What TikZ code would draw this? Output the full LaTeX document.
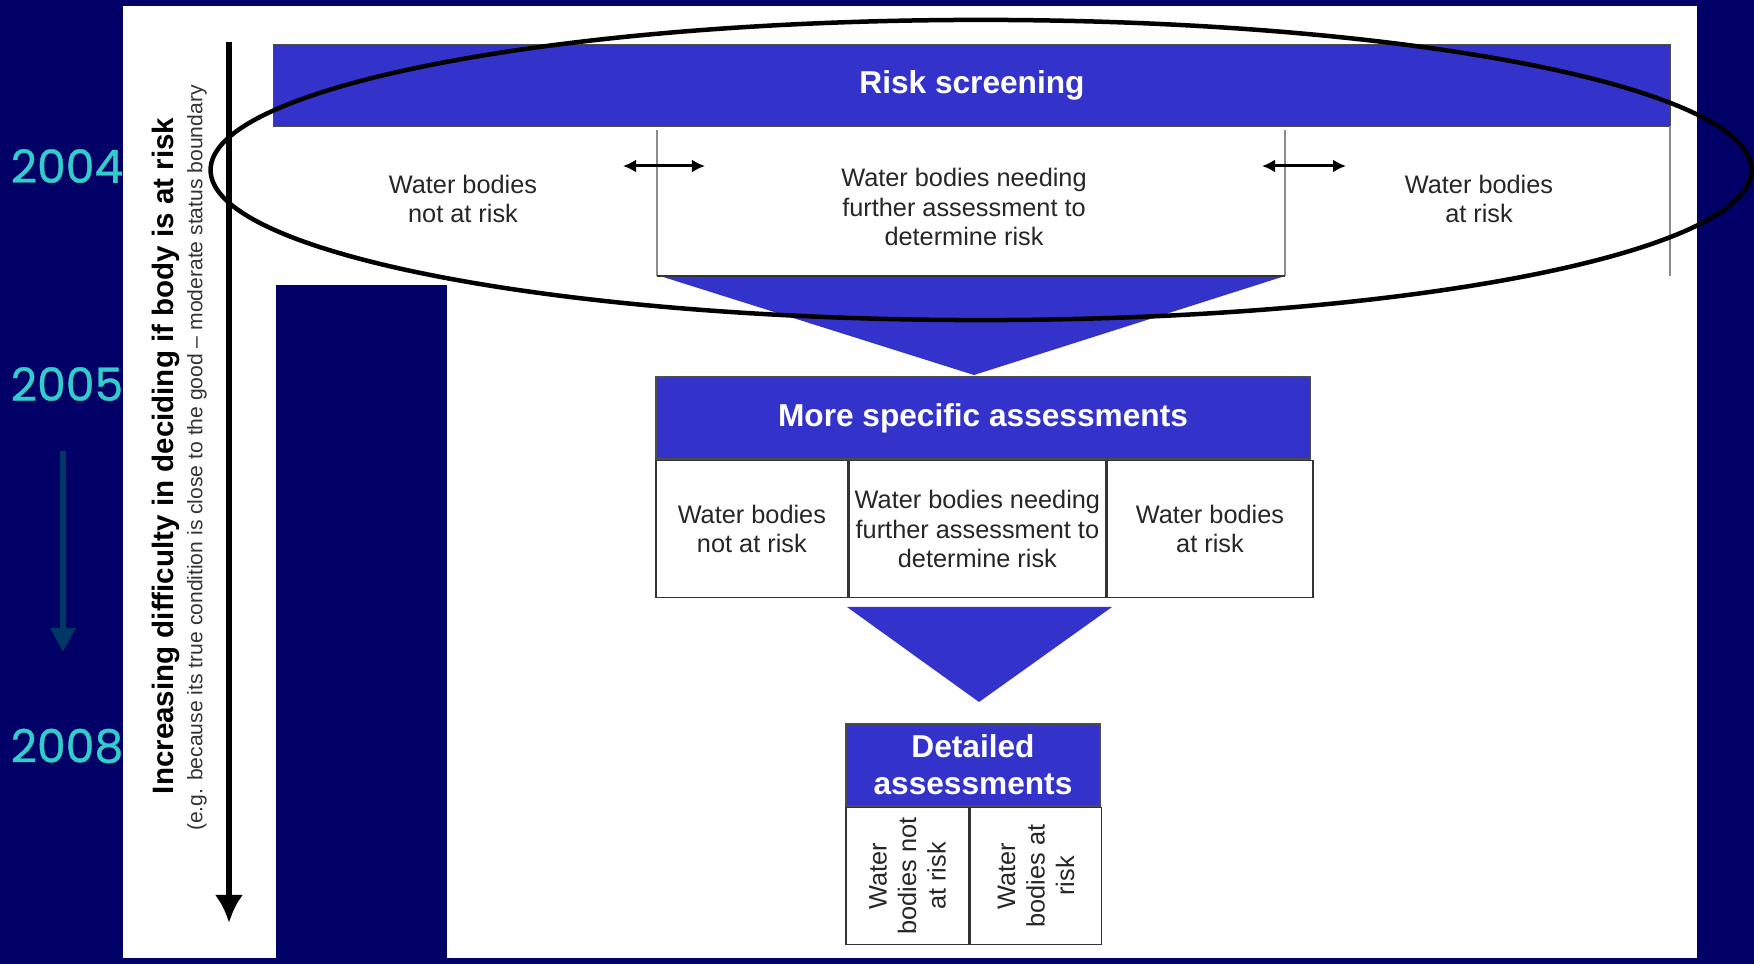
\documentclass[tikz,border=0pt]{standalone}
\usepackage{fontspec}
\setmainfont{Liberation Sans}
\newfontfamily\yearfont[FakeBold=0.8]{Poppins}
\usetikzlibrary{arrows.meta}

\definecolor{navy}{RGB}{0,0,102}
\definecolor{barblue}{RGB}{51,51,204}
\definecolor{yearcyan}{RGB}{51,204,204}
\definecolor{yeararrow}{RGB}{0,55,100}

\tikzstyle{bar} = [draw=black!70, fill=barblue, text=white, font=\bfseries\fontsize{9}{10.5}\selectfont, inner sep=0pt, align=center, minimum height=8.2mm]
\tikzstyle{cell} = [draw=black!80, fill=white, inner sep=0pt, minimum height=13.7mm]
\tikzstyle{plain} = [text=black!85, font=\fontsize{7.2}{8.4}\selectfont, align=center, inner sep=0pt]
\tikzstyle{funnel} = [fill=barblue]
\tikzstyle{line} = [draw, line width=0.3mm, {Latex[length=1.3mm,width=1.3mm]}-{Latex[length=1.3mm,width=1.3mm]}]
\tikzstyle{year} = [text=yearcyan, font=\yearfont\fontsize{13}{15}\selectfont]

\begin{document}
\begin{tikzpicture}[x=0.01cm, y=-0.01cm]

		%background
		\useasboundingbox (0,0) rectangle (1754,964);
		\fill[navy] (0,0) rectangle (1754,964);
		\fill[white] (123,6) rectangle (1697,958);
		\fill[navy] (276,285) rectangle (447,958);

		%years
		\node[year](y04) at (67,166) {2004};
		\node[year](y05) at (67,384) {2005};
		\node[year](y08) at (67,746) {2008};
		\coordinate (ya) at (63,451);
		\coordinate (yb) at (63,652);
		\draw[yeararrow, line width=0.6mm, -{Triangle[length=2.4mm,width=2.4mm]}] (ya) -- (yb);

		%difficulty axis
		\coordinate (dtop) at (229,42);
		\coordinate (dbot) at (229,923);
		\draw[line width=0.6mm, -{Latex[length=2.8mm,width=2.8mm]}] (dtop) -- (dbot);
		\node[rotate=90, font=\bfseries\fontsize{8.4}{10}\selectfont](diff) at (166,456) {Increasing difficulty in deciding if body is at risk};
		\node[rotate=90, text=black!80, font=\fontsize{6}{7}\selectfont](eg) at (197,458) {(e.g. because its true condition is close to the good -- moderate status boundary};

		%risk screening
		\node[bar, minimum width=139.6mm](screen) at (972,85.5) {Risk screening};
		\node[plain](s_not) at (463,199) {Water bodies\\not at risk};
		\node[plain](s_mid) at (964,207) {Water bodies needing\\further assessment to\\determine risk};
		\node[plain](s_at) at (1479,199) {Water bodies\\at risk};
		\draw[black!45] (657,130) -- (657,276);
		\draw[black!45] (1285,130) -- (1285,276);
		\draw[black!45] (1670,126) -- (1670,276);
		\fill[funnel] (660,276) -- (1285,276) -- (974,375) -- cycle;
		\draw[black!80] (657,276) -- (1285,276);
		\coordinate (l1) at (623,166);
		\coordinate (l2) at (705,166);
		\coordinate (r1) at (1262,166);
		\coordinate (r2) at (1346,166);
		\draw[line] (l1) -- (l2);
		\draw[line] (r1) -- (r2);

		%more specific assessments
		\node[bar, minimum width=65.4mm](spec) at (983,418) {More specific assessments};
		\node[cell, minimum width=19.2mm, anchor=north west](p_not) at (spec.south west) {};
		\node[cell, minimum width=25.6mm, anchor=north west](p_mid) at (p_not.north east) {};
		\node[cell, minimum width=20.6mm, anchor=north west](p_at) at (p_mid.north east) {};
		\node[plain](p_not_t) at (p_not) {Water bodies\\not at risk};
		\node[plain](p_mid_t) at (p_mid) {Water bodies needing\\further assessment to\\determine risk};
		\node[plain](p_at_t) at (p_at) {Water bodies\\at risk};
		\fill[funnel] (847,607) -- (1112,607) -- (979,702) -- cycle;

		%detailed assessments
		\node[bar, minimum width=25.4mm](detail) at (973,765) {Detailed\\assessments};
		\node[cell, minimum width=12.3mm, anchor=north west](d_not) at (detail.south west) {};
		\node[cell, minimum width=13.1mm, anchor=north west](d_at) at (d_not.north east) {};
		\node[plain, rotate=90](d_not_t) at (d_not) {Water\\bodies not\\at risk};
		\node[plain, rotate=90](d_at_t) at (d_at) {Water\\bodies at\\risk};

		%ellipse
		\draw[line width=0.45mm] (981,170) ellipse [x radius=77mm, y radius=15mm];
		\end{tikzpicture}
\end{document}
